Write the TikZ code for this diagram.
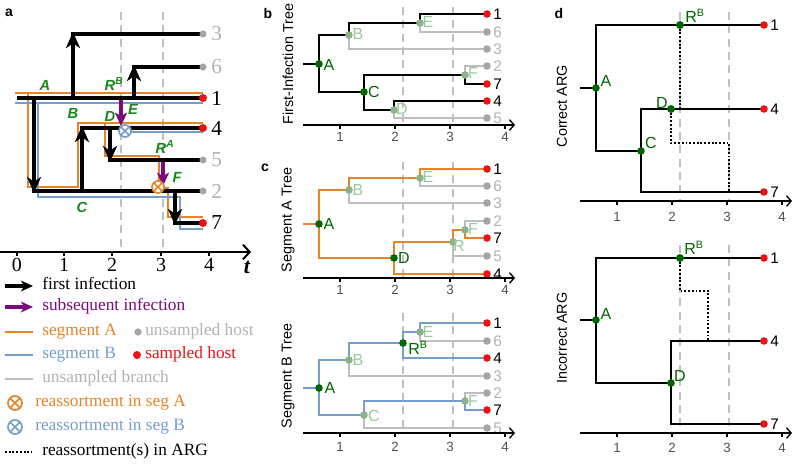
\documentclass[tikz,border=0pt]{standalone}
\usepackage{fontspec}
\setmainfont{Liberation Serif}
\setsansfont{Liberation Sans}
\usetikzlibrary{arrows.meta}
\definecolor{segA}{RGB}{231,132,39}
\definecolor{segB}{RGB}{118,158,204}
\definecolor{lbgreen}{RGB}{25,135,25}
\definecolor{dkgreen}{RGB}{0,100,0}
\definecolor{fadelab}{RGB}{155,200,155}
\definecolor{fadedot}{RGB}{140,178,140}
\definecolor{ugray}{RGB}{165,165,165}
\definecolor{ugtext}{RGB}{178,178,178}
\definecolor{ubrgray}{RGB}{190,190,190}
\definecolor{sred}{RGB}{235,20,20}
\definecolor{purp}{RGB}{125,10,125}
\definecolor{dashgray}{RGB}{192,192,192}
\definecolor{ticklabc}{RGB}{80,80,80}
\tikzset{
 hostline/.style={line width=3.6pt},
 firstinf/.style={line width=3.6pt,-{Stealth[length=12pt,width=10.5pt,inset=3.5pt]}},
 subinf/.style={draw=purp,line width=3pt,-{Stealth[length=10pt,width=9pt,inset=2.5pt]}},
 sega/.style={draw=segA,line width=1.5pt},
 segb/.style={draw=segB,line width=1.5pt},
 vdash/.style={draw=dashgray,line width=1.1pt,dash pattern=on 6pt off 4pt},
 treeblk/.style={line width=2.1pt},
 treea/.style={draw=segA,line width=2.2pt},
 treeb/.style={draw=segB,line width=2.2pt},
 ubr/.style={draw=ubrgray,line width=0.8pt},
 argdot/.style={line width=1.4pt,dash pattern=on 1.4pt off 1.4pt},
 axisln/.style={line width=1pt,-{Straight Barb[length=3.5pt,width=8pt]}},
 tickln/.style={line width=0.8pt},
 dotbase/.style={circle,inner sep=0pt,minimum size=5.7pt},
 reddot/.style={dotbase,fill=sred},
 graydot/.style={dotbase,fill=ugray},
 gdot/.style={dotbase,fill=dkgreen},
 fdot/.style={dotbase,fill=fadedot},
 tiplab/.style={anchor=west,inner sep=0pt,font=\sffamily\fontsize{11.5}{11.5}\selectfont},
 nodelab/.style={inner sep=0pt,text=dkgreen,font=\sffamily\fontsize{12}{12}\selectfont},
 fadelabel/.style={inner sep=0pt,text=fadelab,font=\sffamily\fontsize{12}{12}\selectfont},
 ticklab/.style={inner sep=0pt,text=ticklabc,font=\sffamily\fontsize{10}{10}\selectfont},
 ylab/.style={rotate=90,inner sep=0pt,font=\sffamily\fontsize{10.8}{10.8}\selectfont},
 panlab/.style={inner sep=0pt,font=\sffamily\bfseries\fontsize{10.5}{10.5}\selectfont},
 alab/.style={inner sep=0pt,text=lbgreen,font=\sffamily\bfseries\itshape\fontsize{11}{11}\selectfont},
 anum/.style={anchor=west,inner sep=0pt,font=\fontsize{16}{16}\selectfont},
 atick/.style={inner sep=0pt,font=\fontsize{15}{15}\selectfont},
 legtxt/.style={anchor=west,inner sep=0pt,text height=7.5pt,text depth=2.5pt,font=\fontsize{13}{13}\selectfont},
 xcircA/.style={circle,draw=segA,fill=white,line width=1.3pt,inner sep=0pt,minimum size=9pt,
   path picture={\draw[segA,line width=1.3pt] (path picture bounding box.south west) -- (path picture bounding box.north east) (path picture bounding box.north west) -- (path picture bounding box.south east);}},
 xcircB/.style={circle,draw=segB,fill=white,line width=1.3pt,inner sep=0pt,minimum size=9pt,
   path picture={\draw[segB,line width=1.3pt] (path picture bounding box.south west) -- (path picture bounding box.north east) (path picture bounding box.north west) -- (path picture bounding box.south east);}},
}
\begin{document}
\begin{tikzpicture}[x=0.75pt,y=-0.75pt]
\useasboundingbox (0,0) rectangle (800,464);

%%%%%%%%%%%%%%%% Panel a
\node[panlab] (pa) at (9,13) {a};
\draw[vdash] (121,12) -- (121,252);
\draw[vdash] (163,12) -- (163,252);
% segment A
\draw[sega] (15,93) -- (203,93);
\draw[sega] (28,93) |- (78,187) |- (203,123);
\draw[sega] (105,123) |- (159,156) -- (159,187);
\draw[sega] (159,188) -| (168,217) -- (203,217);
% segment B
\draw[segb] (15,103) -- (203,103);
\draw[segb] (38,103) |- (180,197) |- (203,229);
\draw[segb] (125,132) -- (203,132);
% host lines
\draw[hostline] (17,98) -- (203,98);
\draw[hostline] (71.2,34) -- (203,34);
\draw[hostline] (132.2,67) -- (203,67);
\draw[hostline] (32.2,191) -- (203,191);
\draw[hostline] (80.2,128) -- (203,128);
\draw[hostline] (108.2,160) -- (203,160);
\draw[hostline] (173.2,223) -- (203,223);
% first infections
\draw[firstinf] (73,98) -- (73,32);
\draw[firstinf] (134,98) -- (134,65);
\draw[firstinf] (34,98) -- (34,193);
\draw[firstinf] (82,191) -- (82,126);
\draw[firstinf] (110,128) -- (110,162);
\draw[firstinf] (175,191) -- (175,225);
% subsequent infections
\draw[subinf] (121,100) -- (121,126);
\draw[subinf] (163,162) -- (163,186);
% reassortments
\node[xcircB] (xb) at (125,131) {};
\node[xcircA] (xa) at (158,187) {};
% tips
\node[graydot,minimum size=5.3pt] (ad3) at (203,34) {};
\node[graydot,minimum size=5.3pt] (ad6) at (203,67) {};
\node[reddot,minimum size=6pt] (ad1) at (203,98) {};
\node[reddot,minimum size=6pt] (ad4) at (203,128) {};
\node[graydot,minimum size=5.3pt] (ad5) at (203,160) {};
\node[graydot,minimum size=5.3pt] (ad2) at (203,191) {};
\node[reddot,minimum size=6pt] (ad7) at (203,223) {};
\node[anum,text=ugtext] (an3) at (211,34) {3};
\node[anum,text=ugtext] (an6) at (211,67) {6};
\node[anum] (an1) at (211,98) {1};
\node[anum] (an4) at (211,128) {4};
\node[anum,text=ugtext] (an5) at (211,160) {5};
\node[anum,text=ugtext] (an2) at (211,191) {2};
\node[anum] (an7) at (211,223) {7};
% green labels
\node[alab] (gA) at (45,85) {A};
\node[alab] (gB) at (73,113) {B};
\node[alab] (gRB) at (114,84) {R\textsuperscript{B}};
\node[alab] (gE) at (133,109) {E};
\node[alab] (gD) at (110,116) {D};
\node[alab] (gRA) at (165,147) {R\textsuperscript{A}};
\node[alab] (gF) at (177,177) {F};
\node[alab] (gC) at (82,207) {C};
% axis
\draw[line width=1.5pt,-{Straight Barb[length=5pt,width=11pt]}] (0,252) -- (251,252);
\foreach \xx/\lab in {17/0,64/1,112/2,161/3,209/4}{
  \draw[line width=1pt] (\xx,252) -- (\xx,256);
  \node[atick] (at\lab) at (\xx,265) {\lab};
}
\node[inner sep=0pt,font=\fontsize{16.5}{16.5}\selectfont\bfseries\itshape] (tt) at (247,267) {t};

%%%%%%%%%%%%%%%% Legend
\draw[line width=3pt,-{Stealth[length=9pt,width=8pt,inset=2.5pt]}] (5,286) -- (33,286);
\node[legtxt] (lt1) at (42,286) {first infection};
\draw[draw=purp,line width=3pt,-{Stealth[length=9pt,width=8pt,inset=2.5pt]}] (5,307) -- (33,307);
\node[legtxt,text=purp] (lt2) at (42,307) {subsequent infection};
\draw[draw=segA,line width=1.8pt] (5,332) -- (33,332);
\node[legtxt,text=segA] (lt3) at (42,332) {segment A};
\node[graydot,minimum size=5.5pt] (lgd) at (138,332) {};
\node[legtxt,text=ugtext] (lt4) at (145,332) {unsampled host};
\draw[draw=segB,line width=1.8pt] (5,355) -- (33,355);
\node[legtxt,text=segB] (lt5) at (42,355) {segment B};
\node[reddot,minimum size=6pt] (lrd) at (137,355) {};
\node[legtxt,text=sred] (lt6) at (145,355) {sampled host};
\draw[draw=ubrgray,line width=1.8pt] (5,379) -- (33,379);
\node[legtxt,text=ugtext] (lt7) at (42,379) {unsampled branch};
\node[xcircA,minimum size=10.5pt] (lxa) at (15,403) {};
\node[legtxt,text=segA] (lt8) at (35,403) {reassortment in seg A};
\node[xcircB,minimum size=10.5pt] (lxb) at (15,427) {};
\node[legtxt,text=segB] (lt9) at (35,427) {reassortment in seg B};
\draw[argdot,line width=1.6pt] (5,452) -- (32,452);
\node[legtxt] (lt10) at (42,452) {reassortment(s) in ARG};

%%%%%%%%%%%%%%%% Panel b : first-infection tree
\node[panlab] (pb) at (268,13) {b};
\node[ylab] (yb) at (288,64) {First-Infection Tree};
\draw[vdash] (403,7) -- (403,125);
\draw[vdash] (453,7) -- (453,125);
\draw[ubr] (349,35) |- (487,49);
\draw[ubr] (420,23) |- (487,32);
\draw[ubr] (465,75) |- (487,66);
\draw[ubr] (394,110) |- (487,118);
\draw[treeblk] (303,64) -- (319,64);
\draw[treeblk] (487,14) -- (420,14) -- (420,23) -- (349,23) -- (349,35) -- (319,35) -- (319,92) -- (364,92);
\draw[treeblk] (487,84) -- (465,84) -- (465,75) -- (364,75) -- (364,110) -- (394,110) -- (394,101) -- (487,101);
\node[fdot] (bB) at (349,35) {};
\node[fdot] (bE) at (420,23) {};
\node[fdot] (bF) at (465,75) {};
\node[fdot] (bD) at (394,110) {};
\node[gdot] (bA) at (319,64) {};
\node[gdot] (bC) at (364,92) {};
\node[fadelabel] (lbB) at (358,34) {B};
\node[fadelabel] (lbE) at (428,22) {E};
\node[fadelabel] (lbF) at (473,73) {F};
\node[fadelabel] (lbD) at (402,109) {D};
\node[nodelab] (lbA) at (329,65) {A};
\node[nodelab] (lbC) at (374,92) {C};
\node[reddot] (bt1) at (487,14) {};
\node[graydot] (bt6) at (487,32) {};
\node[graydot] (bt3) at (487,49) {};
\node[graydot] (bt2) at (487,66) {};
\node[reddot] (bt7) at (487,84) {};
\node[reddot] (bt4) at (487,101) {};
\node[graydot] (bt5) at (487,118) {};
\node[tiplab] (bn1) at (493,14) {1};
\node[tiplab,text=ugtext] (bn6) at (493,32) {6};
\node[tiplab,text=ugtext] (bn3) at (493,49) {3};
\node[tiplab,text=ugtext] (bn2) at (493,66) {2};
\node[tiplab] (bn7) at (493,84) {7};
\node[tiplab] (bn4) at (493,101) {4};
\node[tiplab,text=ugtext] (bn5) at (493,118) {5};
\draw[axisln] (303,125) -- (515,125);
\foreach \xx/\lab in {340/1,395/2,450/3,505/4}{
  \draw[tickln] (\xx,125) -- (\xx,129);
  \node[ticklab] (bx\lab) at (\xx,137) {\lab};
}

%%%%%%%%%%%%%%%% Panel c top : segment A tree
\node[panlab] (pc) at (265,168) {c};
\node[ylab] (yca) at (288,220) {Segment A Tree};
\draw[vdash] (403,162) -- (403,278);
\draw[vdash] (453,162) -- (453,278);
\draw[ubr] (349,190) |- (487,203);
\draw[ubr] (420,178) |- (487,186);
\draw[ubr] (465,230) |- (487,221);
\draw[ubr] (453,242) |- (487,256);
\draw[treea] (303,224) -- (319,224);
\draw[treea] (487,169) -- (420,169) -- (420,178) -- (349,178) -- (349,190) -- (319,190) -- (319,258) -- (394,258);
\draw[treea] (487,238) -- (465,238) -- (465,230) -- (453,230) -- (453,242) -- (394,242) -- (394,274) -- (487,274);
\node[fdot] (cB) at (349,190) {};
\node[fdot] (cE) at (420,178) {};
\node[fdot] (cF) at (465,230) {};
\node[fdot] (cR) at (453,242) {};
\node[gdot] (cA) at (319,224) {};
\node[gdot] (cD) at (394,258) {};
\node[fadelabel] (lcB) at (358,190) {B};
\node[fadelabel] (lcE) at (428,177) {E};
\node[fadelabel] (lcF) at (473,229) {F};
\node[fadelabel] (lcR) at (459,246) {R};
\node[nodelab] (lcA) at (329,224) {A};
\node[nodelab] (lcD) at (404,258) {D};
\node[reddot] (ct1) at (487,169) {};
\node[graydot] (ct6) at (487,186) {};
\node[graydot] (ct3) at (487,203) {};
\node[graydot] (ct2) at (487,221) {};
\node[reddot] (ct7) at (487,238) {};
\node[graydot] (ct5) at (487,256) {};
\node[reddot] (ct4) at (487,274) {};
\node[tiplab] (cn1) at (493,169) {1};
\node[tiplab,text=ugtext] (cn6) at (493,186) {6};
\node[tiplab,text=ugtext] (cn3) at (493,203) {3};
\node[tiplab,text=ugtext] (cn2) at (493,221) {2};
\node[tiplab] (cn7) at (493,238) {7};
\node[tiplab,text=ugtext] (cn5) at (493,256) {5};
\node[tiplab] (cn4) at (493,274) {4};
\draw[axisln] (303,278) -- (515,278);
\foreach \xx/\lab in {340/1,395/2,450/3,505/4}{
  \draw[tickln] (\xx,278) -- (\xx,282);
  \node[ticklab] (cx\lab) at (\xx,290) {\lab};
}

%%%%%%%%%%%%%%%% Panel c bottom : segment B tree
\node[ylab] (ycb) at (288,376) {Segment B Tree};
\draw[vdash] (403,313) -- (403,433);
\draw[vdash] (453,313) -- (453,433);
\draw[ubr] (349,360) |- (487,376);
\draw[ubr] (420,332) |- (487,341);
\draw[ubr] (465,401) |- (487,393);
\draw[ubr] (364,415) |- (487,428);
\draw[treeb] (303,388) -- (319,388);
\draw[treeb] (487,323) -- (420,323) -- (420,332) -- (403,332) -- (403,358) -- (487,358);
\draw[treeb] (403,343) -- (349,343) -- (349,360) -- (319,360) -- (319,415) -- (364,415) -- (364,401) -- (465,401) -- (465,410) -- (487,410);
\node[fdot] (eB) at (349,360) {};
\node[fdot] (eE) at (420,332) {};
\node[fdot] (eF) at (465,401) {};
\node[fdot] (eC) at (364,415) {};
\node[gdot] (eA) at (319,388) {};
\node[gdot] (eR) at (403,343) {};
\node[fadelabel] (leB) at (358,360) {B};
\node[fadelabel] (leE) at (428,332) {E};
\node[fadelabel] (leF) at (473,401) {F};
\node[fadelabel] (leC) at (374,416) {C};
\node[nodelab] (leA) at (330,388) {A};
\node[nodelab] (leR) at (418,348) {R\textsuperscript{B}};
\node[reddot] (et1) at (487,323) {};
\node[graydot] (et6) at (487,341) {};
\node[reddot] (et4) at (487,358) {};
\node[graydot] (et3) at (487,376) {};
\node[graydot] (et2) at (487,393) {};
\node[reddot] (et7) at (487,410) {};
\node[graydot] (et5) at (487,428) {};
\node[tiplab] (en1) at (493,323) {1};
\node[tiplab,text=ugtext] (en6) at (493,341) {6};
\node[tiplab] (en4) at (493,358) {4};
\node[tiplab,text=ugtext] (en3) at (493,376) {3};
\node[tiplab,text=ugtext] (en2) at (493,393) {2};
\node[tiplab] (en7) at (493,410) {7};
\node[tiplab,text=ugtext] (en5) at (493,428) {5};
\draw[axisln] (303,433) -- (515,433);
\foreach \xx/\lab in {340/1,395/2,450/3,505/4}{
  \draw[tickln] (\xx,433) -- (\xx,437);
  \node[ticklab] (ex\lab) at (\xx,447) {\lab};
}

%%%%%%%%%%%%%%%% Panel d top : correct ARG
\node[panlab] (pd) at (559,13) {d};
\node[ylab] (yda) at (562,106) {Correct ARG};
\draw[vdash] (680,12) -- (680,201);
\draw[vdash] (729,12) -- (729,201);
\draw[treeblk] (580,88) -- (596,88);
\draw[treeblk] (764,25) -- (596,25) -- (596,151) -- (641,151);
\draw[treeblk] (764,109) -- (641,109) -- (641,192) -- (764,192);
\coordinate (dq1) at (680,109);
\coordinate (dq2) at (729,192);
\node[gdot] (dRB) at (680,25) {};
\node[gdot] (dD) at (671,109) {};
\draw[argdot] (dRB.center) -- (dq1);
\draw[argdot] (dD.center) |- (729,143) -- (dq2);
\node[gdot] (dRB2) at (680,25) {};
\node[gdot] (dD2) at (671,109) {};
\node[gdot] (dA) at (596,88) {};
\node[gdot] (dC) at (641,151) {};
\node[nodelab] (ldRB) at (695,16) {R\textsuperscript{B}};
\node[nodelab] (ldA) at (606,81) {A};
\node[nodelab] (ldC) at (651,143) {C};
\node[nodelab] (ldD) at (662,103) {D};
\node[reddot] (dt1) at (764,25) {};
\node[reddot] (dt4) at (764,109) {};
\node[reddot] (dt7) at (764,192) {};
\node[tiplab] (dn1) at (770,25) {1};
\node[tiplab] (dn4) at (770,109) {4};
\node[tiplab] (dn7) at (770,192) {7};
\draw[axisln] (580,201) -- (792,201);
\foreach \xx/\lab in {617/1,672/2,727/3,782/4}{
  \draw[tickln] (\xx,201) -- (\xx,205);
  \node[ticklab] (dx\lab) at (\xx,217) {\lab};
}

%%%%%%%%%%%%%%%% Panel d bottom : incorrect ARG
\node[ylab] (ydb) at (562,338) {Incorrect ARG};
\draw[vdash] (680,245) -- (680,433);
\draw[vdash] (729,245) -- (729,433);
\draw[treeblk] (580,320) -- (596,320);
\draw[treeblk] (764,258) -- (596,258) -- (596,383) -- (671,383);
\draw[treeblk] (764,341) -- (671,341) -- (671,424) -- (764,424);
\coordinate (iq1) at (708,341);
\node[gdot] (iRB) at (680,258) {};
\draw[argdot] (iRB.center) |- (708,291) -- (iq1);
\node[gdot] (iRB2) at (680,258) {};
\node[gdot] (iA) at (596,320) {};
\node[gdot] (iD) at (671,383) {};
\node[nodelab] (liRB) at (694,248) {R\textsuperscript{B}};
\node[nodelab] (liA) at (606,314) {A};
\node[nodelab] (liD) at (680,376) {D};
\node[reddot] (it1) at (764,258) {};
\node[reddot] (it4) at (764,341) {};
\node[reddot] (it7) at (764,424) {};
\node[tiplab] (in1) at (770,258) {1};
\node[tiplab] (in4) at (770,341) {4};
\node[tiplab] (in7) at (770,424) {7};
\draw[axisln] (580,433) -- (792,433);
\foreach \xx/\lab in {617/1,672/2,727/3,782/4}{
  \draw[tickln] (\xx,433) -- (\xx,437);
  \node[ticklab] (ix\lab) at (\xx,448) {\lab};
}
\end{tikzpicture}
\end{document}
